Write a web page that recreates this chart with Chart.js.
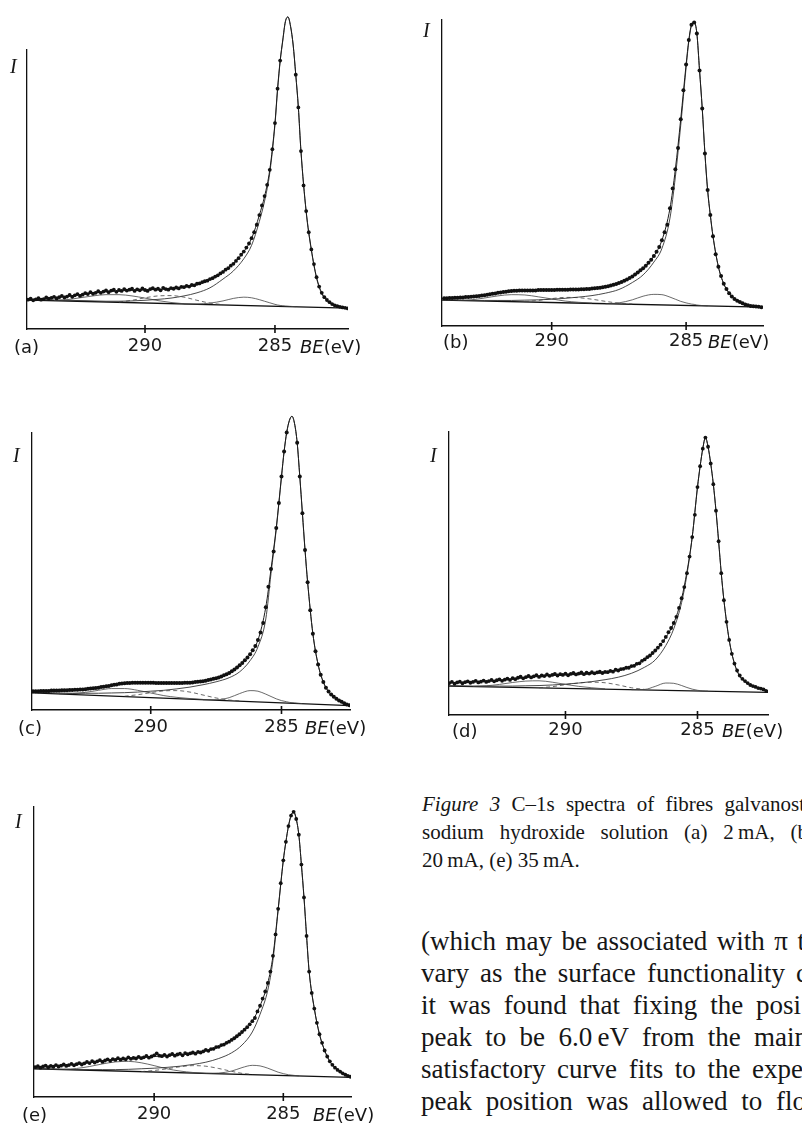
<!DOCTYPE html>
<html><head><meta charset="utf-8">
<script src="https://cdn.jsdelivr.net/npm/chart.js@4.4.1/dist/chart.umd.min.js"></script>
<style>
html,body{margin:0;padding:0;background:#fff;width:802px;height:1131px;overflow:hidden;position:relative;}
canvas{position:absolute;}
.t{position:absolute;color:#161616;}
.nw{white-space:nowrap;}
.lab{font-family:'DejaVu Sans',sans-serif;font-size:18px;line-height:20px;}
.lab i{font-style:italic;}
.I{font-family:'Liberation Serif',serif;font-style:italic;font-size:20px;line-height:20px;}
.cap{font-family:'Liberation Serif',serif;font-size:21px;line-height:28px;}
.bod{font-family:'Liberation Serif',serif;font-size:27px;line-height:32px;}
.j{text-align:justify;text-align-last:justify;}
</style></head><body>

<canvas id="ca" width="400" height="370" style="left:0;top:0"></canvas>
<canvas id="cb" width="402" height="370" style="left:400px;top:0"></canvas>
<canvas id="cc" width="400" height="380" style="left:0;top:370px"></canvas>
<canvas id="cd" width="402" height="380" style="left:400px;top:370px"></canvas>
<canvas id="ce" width="400" height="381" style="left:0;top:750px"></canvas>

<div class="t nw I" style="left:10px;top:56px">I</div>
<div class="t nw lab" style="left:14px;top:337px">(a)</div>
<div class="t nw lab" style="left:300px;top:337px"><i>BE</i>(eV)</div>

<div class="t nw I" style="left:423px;top:20px">I</div>
<div class="t nw lab" style="left:443px;top:332px">(b)</div>
<div class="t nw lab" style="left:708px;top:332px"><i>BE</i>(eV)</div>

<div class="t nw I" style="left:13px;top:445px">I</div>
<div class="t nw lab" style="left:18px;top:718px">(c)</div>
<div class="t nw lab" style="left:305px;top:718px"><i>BE</i>(eV)</div>

<div class="t nw I" style="left:430px;top:445px">I</div>
<div class="t nw lab" style="left:452px;top:721px">(d)</div>
<div class="t nw lab" style="left:722px;top:721px"><i>BE</i>(eV)</div>

<div class="t nw I" style="left:15px;top:811px">I</div>
<div class="t nw lab" style="left:22px;top:1105px">(e)</div>
<div class="t nw lab" style="left:313px;top:1105px"><i>BE</i>(eV)</div>

<div class="t cap j" style="left:422px;top:790px;width:383px"><i>Figure 3</i> C–1s spectra of fibres galvanost</div>
<div class="t cap j" style="left:422px;top:818px;width:386px">sodium hydroxide solution (a) 2&#8239;mA, (b</div>
<div class="t cap nw" style="left:422px;top:846px">20&#8239;mA, (e) 35&#8239;mA.</div>

<div class="t bod j" style="left:421px;top:925px;width:384px">(which may be associated with π t</div>
<div class="t bod j" style="left:421px;top:957px;width:387px">vary as the surface functionality c</div>
<div class="t bod j" style="left:421px;top:989px;width:380px">it was found that fixing the posi</div>
<div class="t bod j" style="left:421px;top:1021px;width:387px">peak to be 6.0&#8239;eV from the main</div>
<div class="t bod j" style="left:421px;top:1053px;width:382px">satisfactory curve fits to the expe</div>
<div class="t bod j" style="left:421px;top:1085px;width:385px">peak position was allowed to flo</div>

<script>
const _ = null;
// binding energy grid of the measured points (eV)
const BE = [294.7,294.6,294.5,294.4,294.3,294.2,294.1,294.0,293.9,293.8,
293.7,293.6,293.5,293.4,293.3,293.2,293.1,293.0,292.9,292.8,
292.7,292.6,292.5,292.4,292.3,292.2,292.1,292.0,291.9,291.8,
291.7,291.6,291.5,291.4,291.3,291.2,291.1,291.0,290.9,290.8,
290.7,290.6,290.5,290.4,290.3,290.2,290.1,290.0,289.9,289.8,
289.7,289.6,289.5,289.4,289.3,289.2,289.1,289.0,288.9,288.8,
288.7,288.6,288.5,288.4,288.3,288.2,288.1,288.0,287.9,287.8,
287.7,287.6,287.5,287.4,287.3,287.2,287.1,287.0,286.9,286.8,
286.7,286.6,286.5,286.4,286.3,286.2,286.1,286.0,285.9,285.8,
285.7,285.6,285.5,285.4,285.3,285.2,285.1,285.0,284.9,284.8,
284.7,284.6,284.5,284.4,284.3,284.2,284.1,284.0,283.9,283.8,
283.7,283.6,283.5,283.4,283.3,283.2,283.1,283.0,282.9,282.8,
282.7,282.6,282.5,282.4,282.3,282.2,282.1];
// grid of the fitted curves (eV)
const BE_FIT = [294.8,294.0,293.5,293.0,292.5,292.0,291.5,291.0,290.5,290.0,289.5,289.0,288.5,288.0,287.5,287.0,286.6,286.2,285.9,285.6,285.4,285.2,285.0,284.9,284.8,284.7,284.6,284.5,284.4,284.3,284.2,284.1,284.0,283.8,283.6,283.4,283.2,283.0,282.8,282.5,282.1];
const BE_BASE = [294.8, 282.1];
const X_TICKS = [290, 285];

// (a) 2 mA
const dataA = [_,_,9.4,9.7,9.2,9.5,9.9,9.4,9.6,10.1,
9.7,10.0,10.3,9.8,10.2,10.6,10.1,10.4,10.9,10.3,
10.8,11.2,10.6,11.0,11.5,11.2,11.8,11.3,11.6,12.1,
11.6,12.0,12.4,11.8,12.3,12.6,11.9,12.5,12.2,12.8,
12.3,12.6,12.9,12.2,12.7,12.4,13.0,12.5,12.2,12.8,
13.1,12.6,12.9,12.4,13.2,12.8,12.6,13.1,12.9,13.3,
13.0,13.5,13.4,13.8,13.6,14.1,14.0,14.5,14.6,15.0,
15.3,15.5,16.0,16.3,16.8,17.2,17.8,18.3,19.0,19.5,
20.3,20.9,21.8,22.7,23.8,24.8,26.1,27.4,29.1,31.0,
33.4,36.5,39.6,42.6,46.2,51.0,57.6,66.0,77.0,86.0,
92.6,98.5,100,97.0,91.0,81.5,71.0,57.0,46.0,37.8,
31.0,25.5,20.8,16.6,13.6,11.6,10.2,9.3,8.6,8.0,
7.6,7.3,7.1,6.9,6.8,6.6];
const envA = [9.3,9.7,10.1,10.5,11.0,11.5,11.9,12.2,12.4,12.5,12.7,12.9,13.5,14.4,15.9,18.3,20.9,24.8,29.0,36.5,42.5,51.0,66.0,77.0,86.0,92.6,98.5,100,97.0,91.0,81.5,71.0,57.0,37.8,25.5,16.6,11.6,9.3,8.0,7.1,6.5];
const mainA = [9.5,9.4,9.3,9.2,9.1,9.0,8.9,8.9,9.0,9.2,9.5,9.9,10.6,11.6,13.2,16.0,18.6,22.5,26.8,34.5,41.0,50.0,65.5,76.5,85.7,92.3,98.4,100,97.0,91.0,81.5,71.0,57.0,37.5,25.2,16.3,11.3,9.1,7.9,7.0,6.5];
const c2A = [_,_,_,_,_,_,_,_,_,_,_,_,8.0,8.0,8.3,9.0,9.8,10.2,10.0,9.4,8.9,8.4,7.9,7.7,7.55,7.45,7.35,7.3,7.25,7.2,7.15];
const c3A = [_,_,_,_,_,_,_,8.6,9.2,10.0,10.6,10.7,10.2,9.2,8.3,7.8];
const c4A = [_,_,9.1,9.4,10.0,10.6,11.0,11.0,10.6,9.9,9.1,8.5,8.1];
const baseA = [9.35, 6.68];

// (b)
const dataB = [_,_,_,_,_,_,_,9.1,9.1,9.2,
9.2,9.3,9.3,9.4,9.4,9.5,9.5,9.6,9.7,9.8,
9.9,10.0,10.1,10.3,10.4,10.6,10.7,10.9,11.0,11.2,
11.3,11.4,11.5,11.6,11.6,11.7,11.7,11.7,11.7,11.7,
11.7,11.7,11.8,11.8,11.8,11.8,11.8,11.8,11.8,11.9,
11.9,11.9,11.9,11.9,12.0,12.0,12.0,12.0,12.1,12.1,
12.2,12.2,12.3,12.4,12.5,12.6,12.7,12.9,13.1,13.3,
13.6,13.8,14.1,14.5,14.9,15.3,15.8,16.3,16.9,17.6,
18.3,19.0,19.8,20.8,21.8,23.0,24.4,26.0,28.2,30.8,
33.3,38.7,45.2,51.5,58.5,68.0,77.5,86.0,94.0,99.0,
99.8,96.2,84.0,71.5,56.7,44.7,36.5,29.5,23.6,19.5,
16.4,13.9,12.2,10.8,9.7,8.9,8.3,7.9,7.5,7.1,
6.8,6.6,6.5,6.4,6.3,6.2];
const envB = [8.9,9.1,9.3,9.6,10.1,10.9,11.5,11.7,11.8,11.8,11.9,12.0,12.3,12.9,14.1,16.3,18.7,23.0,28.2,38.7,51.5,68.0,86.0,94.0,99.0,99.8,96.2,84.0,71.5,56.7,44.7,36.5,29.5,19.5,13.9,10.8,8.9,7.9,7.1,6.5,6.1];
const mainB = [8.7,8.6,8.5,8.4,8.4,8.4,8.4,8.5,8.6,8.8,9.1,9.5,10.0,10.8,12.0,14.3,16.8,21.0,25.5,35.5,49.0,66.0,85.0,93.5,98.8,99.8,96.2,84.0,71.5,56.7,44.7,36.5,29.5,19.5,13.9,10.8,8.9,7.9,7.1,6.5,6.1];
const c2B = [_,_,_,_,_,_,_,_,_,_,_,_,_,7.3,7.6,8.6,9.8,10.4,10.3,9.5,8.8,8.1,7.6,7.4,7.2,7.1,6.9,6.8,6.72,6.68,6.62];
const c3B = [_,_,_,_,_,_,_,8.0,8.4,9.0,9.4,9.3,8.8,8.1,7.5,7.2];
const c4B = [_,_,8.4,8.6,9.2,9.9,10.3,10.2,9.6,8.9,8.2,7.8,7.5];
const baseB = [8.64, 6.19];

// (c)
const dataC = [_,_,6.4,6.4,6.4,6.5,6.5,6.5,6.5,6.6,
6.6,6.6,6.6,6.7,6.7,6.7,6.8,6.8,6.9,6.9,
7.0,7.0,7.1,7.2,7.3,7.4,7.5,7.6,7.8,7.9,
8.1,8.2,8.4,8.6,8.7,8.9,9.0,9.1,9.2,9.2,
9.3,9.3,9.3,9.3,9.3,9.3,9.3,9.3,9.3,9.2,
9.2,9.2,9.2,9.2,9.2,9.2,9.2,9.2,9.2,9.2,
9.3,9.3,9.3,9.4,9.5,9.6,9.7,9.8,10.0,10.2,
10.4,10.6,10.8,11.1,11.4,11.8,12.2,12.6,13.2,13.8,
14.5,15.2,16.0,16.9,17.9,19.0,20.3,21.8,23.8,26.4,
29.6,35.0,42.0,48.0,54.0,62.0,70.5,79.5,88.0,94.5,
98.5,100,97.5,91.0,79.5,67.0,54.5,43.5,34.0,26.0,
20.0,15.5,12.0,9.5,7.6,6.3,5.3,4.5,3.8,3.2,
2.8,2.3,1.9,1.6];
const envC = [6.3,6.5,6.6,6.8,7.1,7.6,8.4,9.1,9.3,9.3,9.2,9.2,9.3,9.8,10.8,12.6,15.2,19.0,23.8,35.0,48.0,62.0,79.5,88.0,94.5,98.5,100,97.5,91.0,79.5,67.0,54.5,43.5,26.0,15.5,9.5,6.3,4.5,3.2,1.9,1.2];
const mainC = [6.0,5.9,5.8,5.7,5.7,5.7,5.8,5.9,6.1,6.4,6.7,7.2,7.8,8.6,9.6,11.0,13.0,16.8,21.5,31.0,46.5,61.5,79.3,88.0,94.5,98.5,100,97.5,91.0,79.5,67.0,54.5,43.5,26.0,15.5,9.5,6.3,4.5,3.2,1.9,1.2];
const c2C = [_,_,_,_,_,_,_,_,_,_,_,_,_,3.5,3.5,4.2,5.6,6.6,6.4,5.4,4.6,3.8,3.2,3.0,2.8,2.6,2.5,2.4,2.3,2.25,2.2];
const c3C = [_,_,_,_,_,_,_,4.7,5.2,5.9,6.5,6.6,6.1,5.1,4.1,3.4,3.1];
const c4C = [_,_,5.5,5.6,6.0,6.7,7.3,7.3,6.7,5.8,4.9,4.3,3.9,3.6];
const baseC = [5.89, 1.40];

// (d)
const dataD = [_,_,_,11.5,11.9,11.2,11.7,12.0,11.4,11.8,
12.1,11.6,11.9,12.3,11.7,12.0,12.4,11.9,12.2,12.6,
12.1,12.5,12.8,12.3,12.7,13.1,12.6,13.3,12.9,13.4,
13.8,13.2,13.6,14.1,13.5,13.9,14.3,13.7,14.2,14.0,
14.6,14.1,14.4,14.8,14.2,14.7,14.4,14.9,14.3,14.8,
15.1,14.6,14.9,15.3,14.7,15.2,14.9,15.4,15.0,15.3,
15.6,15.1,15.5,15.4,15.9,15.6,16.3,16.0,16.5,16.6,
17.0,17.0,17.6,17.7,18.4,18.6,19.5,20.0,20.8,21.4,
22.3,23.2,24.2,25.3,26.6,28.1,29.8,31.3,33.1,35.3,
38.5,42.0,46.0,51.0,57.0,64.0,72.0,82.0,89.5,95.8,
99.8,96.5,90.5,83.0,73.5,62.5,51.0,41.3,33.5,27.0,
22.0,18.5,16.0,14.2,13.0,12.2,11.5,10.8,10.4,10.1,
9.7,9.5,9.2,8.6];
const envD = [11.5,11.8,12.0,12.2,12.4,12.9,13.5,13.9,14.2,14.4,14.6,14.8,15.2,16.1,17.6,20.0,23.0,27.9,33.0,42.0,51.5,64.0,82.0,89.5,95.8,99.8,96.5,90.5,83.0,73.5,62.5,51.0,41.3,27.0,18.5,14.0,12.0,10.8,10.0,9.2,8.2];
const mainD = [10.6,10.5,10.4,10.4,10.4,10.4,10.5,10.6,10.8,11.1,11.5,12.0,12.7,13.6,15.0,17.2,19.8,25.0,31.0,40.5,50.5,64.0,82.0,89.5,95.8,99.8,96.5,90.5,83.0,73.5,62.5,51.0,41.3,27.0,18.5,14.0,12.0,10.8,10.0,9.2,8.2];
const c2D = [_,_,_,_,_,_,_,_,_,_,_,_,_,_,9.1,9.2,10.3,11.5,11.4,10.6,9.9,9.3,8.9,8.75,8.65,8.6,8.55];
const c3D = [_,_,_,_,_,_,_,9.8,10.2,10.9,11.5,11.8,11.6,10.8,9.8,9.2];
const c4D = [_,_,10.3,10.5,11.0,11.7,12.2,12.3,11.8,11.0,10.3,9.8,9.4];
const baseD = [10.47, 8.06];

// (e) 35 mA
const dataE = [_,10.5,10.8,10.3,10.7,11.0,10.4,10.9,10.6,11.2,
10.7,11.0,11.4,10.9,11.2,11.6,11.1,11.5,11.9,11.4,
11.8,12.3,11.9,12.6,12.1,12.5,12.9,12.3,12.8,13.2,
12.7,13.3,13.0,13.6,13.1,13.5,13.2,13.9,13.4,13.7,
13.5,14.1,13.6,13.9,14.4,13.8,14.2,14.6,15.3,14.5,
14.3,14.8,14.2,14.7,15.1,14.5,14.9,15.2,14.6,15.4,
15.0,15.3,15.6,15.2,15.8,15.6,16.0,16.5,16.2,16.8,
16.9,17.5,17.6,18.2,18.4,19.0,19.4,20.0,20.6,21.3,
22.0,22.8,23.6,24.5,25.5,26.6,27.7,30.0,32.0,34.5,
37.0,40.0,44.0,49.5,57.0,66.0,75.0,83.0,89.5,95.0,
98.7,100,97.5,92.0,81.5,70.0,56.5,44.0,36.5,31.0,
26.0,22.0,19.0,16.3,14.2,12.5,11.3,10.3,9.5,8.9,
8.3,7.8,7.4,7.1];
const envE = [10.5,10.9,11.2,11.6,12.1,12.7,13.2,13.6,13.8,14.2,14.5,14.9,15.2,16.2,17.6,20.0,22.6,26.6,32.0,40.0,49.5,65.9,83.0,89.5,95.0,98.7,100,97.5,92.0,81.5,70.0,56.5,44.0,31.0,22.0,16.3,12.5,10.3,8.9,7.4,6.9];
const mainE = [10.0,9.8,9.7,9.6,9.6,9.6,9.6,9.7,9.9,10.1,10.4,10.8,11.4,12.2,13.5,15.5,18.2,22.8,29.0,37.5,48.0,65.5,83.0,89.5,95.0,98.7,100,97.5,92.0,81.5,70.0,56.5,44.0,31.0,22.0,16.3,12.5,10.3,8.9,7.4,6.9];
const c2E = [_,_,_,_,_,_,_,_,_,_,_,_,_,8.3,8.4,9.1,10.3,11.1,10.9,10.1,9.4,8.7,8.2,8.0,7.8,7.7,7.6,7.5,7.4];
const c3E = [_,_,_,_,_,_,_,_,8.9,9.3,9.9,10.6,11.0,10.8,10.0,9.0,8.3,7.9];
const c4E = [_,_,9.7,10.0,10.7,11.6,12.3,12.5,12.0,11.0,9.9,9.1,8.6,8.3];
const baseE = [9.94, 6.83];

const panels = [
  {id:'ca', d:dataA, env:envA, main:mainA, c2:c2A, c3:c3A, c4:c4A, base:baseA, xmin:282.19, xmax:294.54, ymax:89.4, pad:{left:27,top:50,right:52,bottom:11}, r:1.9, tp:3},
  {id:'cb', d:dataB, env:envB, main:mainB, c2:c2B, c3:c3B, c4:c4B, base:baseB, xmin:282.14, xmax:294.08, ymax:100.6, pad:{left:42,top:20,right:39,bottom:14}, r:2.0, tp:1},
  {id:'cc', d:dataC, env:envC, main:mainC, c2:c2C, c3:c3C, c4:c4C, base:baseC, xmin:282.38, xmax:294.54, ymax:94.3, pad:{left:32,top:63,right:50,bottom:10}, r:2.0, tp:3},
  {id:'cd', d:dataD, env:envD, main:mainD, c2:c2D, c3:c3D, c4:c4D, base:baseD, xmin:282.33, xmax:294.41, ymax:101.8, pad:{left:49,top:62,right:34,bottom:5}, r:1.9, tp:1},
  {id:'ce', d:dataE, env:envE, main:mainE, c2:c2E, c3:c3E, c4:c4E, base:baseE, xmin:282.38, xmax:294.65, ymax:101.7, pad:{left:34,top:57,right:49,bottom:4}, r:1.9, tp:3}
];

const CLIP = {left:0, top:false, right:0, bottom:0};
function pts(xs, ys){ const out=[]; ys.forEach((y,i)=>{ if (y !== null && y !== undefined) out.push({x:xs[i], y:y}); }); return out; }
function curve(xs, ys, w, color, dash){
  return {data:pts(xs,ys), showLine:true, borderColor:color, borderWidth:w, borderDash:dash||[], pointRadius:0, pointHoverRadius:0, fill:false, cubicInterpolationMode:'monotone', clip:CLIP};
}
// tick marks crossing the x axis, placed with the x scale
const tickCross = {id:'tickCross', afterDraw(chart){
  const s = chart.scales.x, ctx = chart.ctx;
  ctx.save(); ctx.strokeStyle = '#111'; ctx.lineWidth = 1.6;
  X_TICKS.forEach(v => { const px = s.getPixelForValue(v); ctx.beginPath(); ctx.moveTo(px, s.top - 4); ctx.lineTo(px, s.top + 4); ctx.stroke(); });
  ctx.restore();
}};

panels.forEach(p => {
  const datasets = [
    {data:pts(BE,p.d), showLine:false, pointRadius:p.r, pointHoverRadius:0, pointBackgroundColor:'#111', pointBorderWidth:0, clip:CLIP},
    curve(BE_FIT, p.env, 1.0, '#1a1a1a'),
    curve(BE_FIT, p.main, 0.9, '#333'),
    curve(BE_FIT, p.c2, 0.8, '#444'),
    curve(BE_FIT, p.c3, 0.8, '#444', [4,3]),
    curve(BE_FIT, p.c4, 0.8, '#444'),
    curve(BE_BASE, p.base, 1.3, '#111')
  ];
  new Chart(document.getElementById(p.id), {
    type:'line',
    data:{datasets},
    plugins:[tickCross],
    options:{
      responsive:false, animation:false, devicePixelRatio:1,
      layout:{padding:p.pad, autoPadding:false},
      plugins:{legend:{display:false}, tooltip:{enabled:false}},
      events:[],
      scales:{
        x:{type:'linear', reverse:true, min:p.xmin, max:p.xmax,
           afterBuildTicks:s=>{ s.ticks = X_TICKS.map(v=>({value:v})); },
           afterFit:s=>{ s.height = 30; },
           border:{display:true, color:'#111', width:1.5},
           grid:{display:false, drawTicks:false, tickLength:4},
           ticks:{color:'#1a1a1a', font:{family:'DejaVu Sans', size:18}, padding:p.tp + 4, maxRotation:0, autoSkip:false, callback:v=>String(v)}
        },
        y:{type:'linear', min:0, max:p.ymax,
           afterFit:s=>{ s.width = 0; },
           ticks:{display:false}, grid:{display:false},
           border:{display:true, color:'#111', width:1.3}
        }
      }
    }
  });
});
</script>
</body></html>
